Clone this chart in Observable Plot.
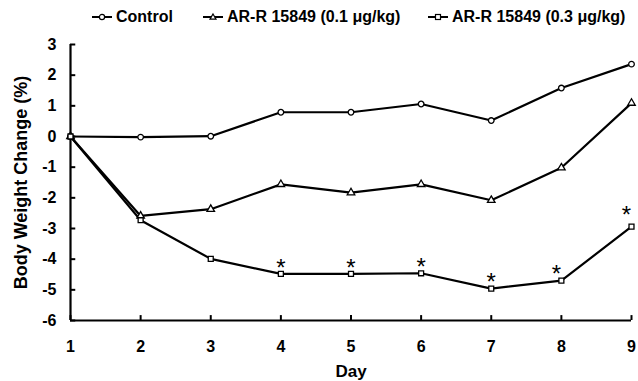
<!DOCTYPE html>
<html>
<head>
<meta charset="utf-8">
<script src="https://cdn.jsdelivr.net/npm/d3@7"></script>
<script src="https://cdn.jsdelivr.net/npm/@observablehq/plot@0.6"></script>
<style>
  body { margin: 0; background: #fff; font-family: "Liberation Sans", Arial, sans-serif; }
  #wrap { position: relative; width: 638px; height: 381px; }
  #legend { position: relative; height: 30px; }
  .item { position: absolute; top: 8px; display: flex; align-items: center; font-weight: bold; font-size: 16px; line-height: 18px; white-space: nowrap; }
  .item svg { margin-right: 4px; }
</style>
</head>
<body>
<div id="wrap">
  <div id="legend"></div>
  <div id="chart"></div>
</div>
<script>
const days = [1, 2, 3, 4, 5, 6, 7, 8, 9];
const control = [0, -0.02, 0.01, 0.79, 0.79, 1.06, 0.52, 1.58, 2.36];
const dose01 = [0, -2.59, -2.37, -1.56, -1.83, -1.56, -2.08, -1.02, 1.09];
const dose03 = [0, -2.73, -3.99, -4.48, -4.48, -4.46, -4.96, -4.70, -2.94];
const significantDays = [4, 5, 6, 7, 8, 9];
const seriesNames = ["Control", "AR-R 15849 (0.1 μg/kg)", "AR-R 15849 (0.3 μg/kg)"];
const seriesSymbols = ["circle", "triangle", "square"];
const yTicks = [3, 2, 1, 0, -1, -2, -3, -4, -5, -6];
const xLabel = "Day";
const yLabel = "Body Weight Change (%)";

const seriesValues = [control, dose01, dose03];
const rows = seriesNames.flatMap((name, i) =>
  days.map((d, j) => ({series: name, day: d, value: seriesValues[i][j], symbol: seriesSymbols[i]})));
const stars = significantDays.map(d => ({day: d, value: dose03[days.indexOf(d)]}));

// legend (HTML)
const legendX = [92, 203, 428];
const legend = document.getElementById("legend");
const symbolPath = {
  circle: '<circle cx="10" cy="6" r="2.6" fill="#fff" stroke="#000" stroke-width="1.2"/>',
  triangle: '<path d="M10,3 L13,8.2 L7,8.2 Z" fill="#fff" stroke="#000" stroke-width="1.2"/>',
  square: '<rect x="7.5" y="3.5" width="5" height="5" fill="#fff" stroke="#000" stroke-width="1.2"/>'
};
seriesNames.forEach((name, i) => {
  const el = document.createElement("div");
  el.className = "item";
  el.style.left = legendX[i] + "px";
  el.innerHTML = `<svg width="20" height="12"><line x1="0" y1="6" x2="20" y2="6" stroke="#000" stroke-width="2"/>${symbolPath[seriesSymbols[i]]}</svg><span>${name}</span>`;
  legend.appendChild(el);
});

const fmt = d => String(d);
const chart = Plot.plot({
  width: 638,
  height: 351,
  marginLeft: 70,
  marginRight: 7,
  marginTop: 14,
  marginBottom: 61,
  style: {fontFamily: "'Liberation Sans', Arial, sans-serif", fontWeight: "bold", fontSize: "15px", color: "#000", background: "#fff"},
  x: {domain: [1, 9]},
  y: {domain: [-6, 3]},
  symbol: {domain: seriesSymbols, range: seriesSymbols},
  marks: [
    Plot.axisX(days, {tickSize: 0, tickPadding: 20, tickFormat: fmt, label: null, fontSize: 16, fontWeight: "bold"}),
    Plot.axisX({tickSize: 0, ticks: [], label: xLabel, labelAnchor: "center", labelArrow: false, labelOffset: 56, fontSize: 17, fontWeight: "bold"}),
    Plot.axisY(yTicks, {tickSize: 0, tickPadding: 14, tickFormat: fmt, label: null, fontSize: 16, fontWeight: "bold"}),
    Plot.axisY({tickSize: 0, ticks: [], label: yLabel, labelAnchor: "center", labelArrow: false, labelOffset: 56, fontSize: 18, fontWeight: "bold"}),
    Plot.ruleY(yTicks, {x1: 1, x2: 1.075, stroke: "#000", strokeWidth: 2}),
    Plot.ruleX(days, {y1: -6, y2: -5.84, stroke: "#000", strokeWidth: 2}),
    Plot.ruleX([1], {y1: -6, y2: 3, stroke: "#000", strokeWidth: 2.2}),
    Plot.ruleY([-6], {x1: 1, x2: 9, stroke: "#000", strokeWidth: 2.2}),
    Plot.line(rows, {x: "day", y: "value", z: "series", stroke: "#000", strokeWidth: 2.2}),
    Plot.dot(rows, {x: "day", y: "value", symbol: "symbol", r: 2.8, fill: "#fff", stroke: "#000", strokeWidth: 1.3}),
    Plot.text(stars.filter(d => d.day <= 7), {x: "day", y: "value", text: () => "*", fontSize: 24, fontWeight: "normal", dy: -6}),
    Plot.text(stars.filter(d => d.day === 8), {x: "day", y: "value", text: () => "*", fontSize: 24, fontWeight: "normal", dx: -5, dy: -6}),
    Plot.text(stars.filter(d => d.day === 9), {x: "day", y: "value", text: () => "*", fontSize: 24, fontWeight: "normal", dx: -5, dy: -11})
  ]
});
document.getElementById("chart").appendChild(chart);
</script>
</body>
</html>
